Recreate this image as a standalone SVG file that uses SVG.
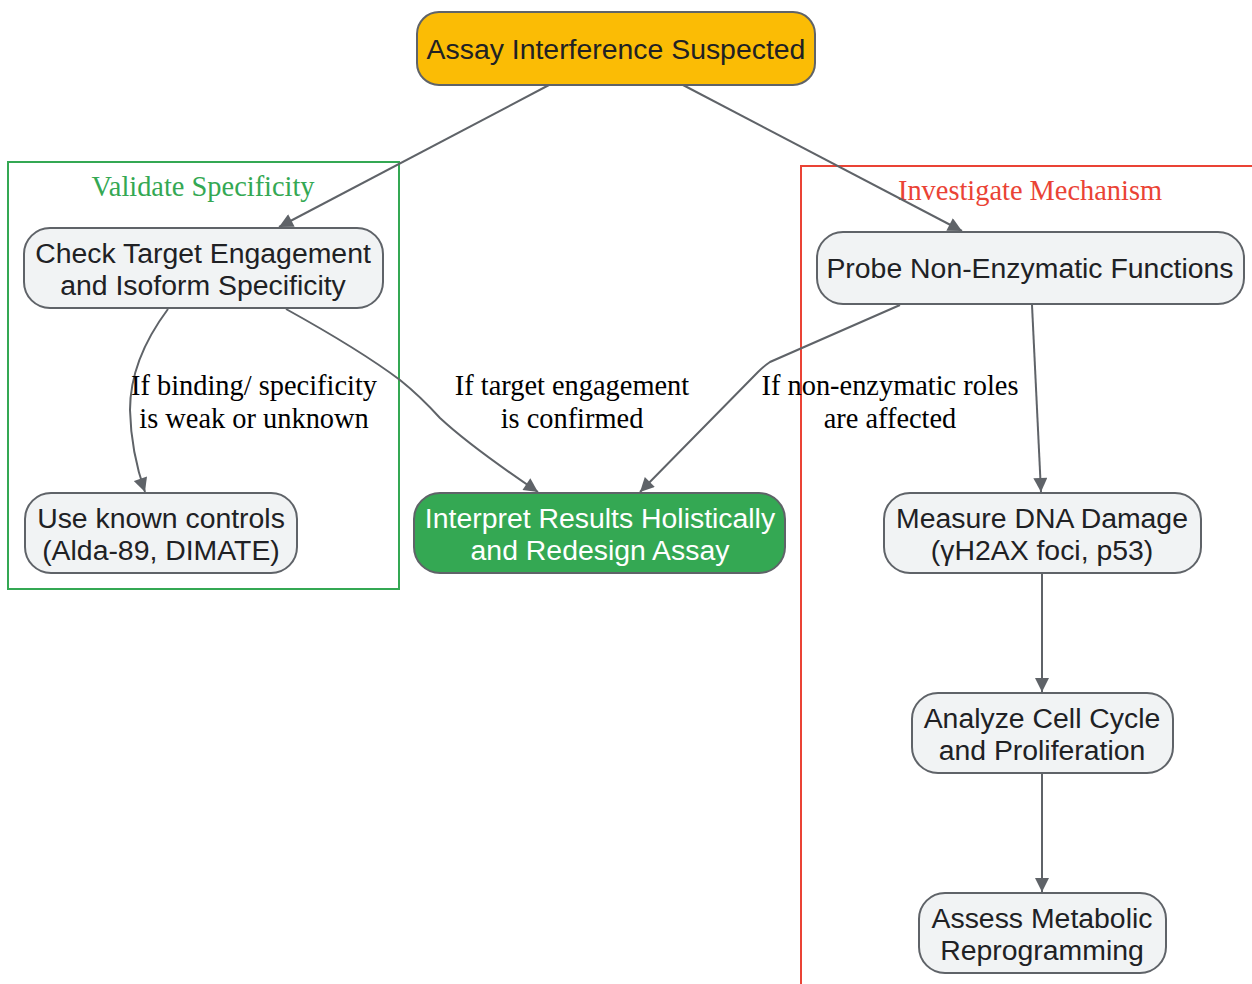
<svg xmlns="http://www.w3.org/2000/svg" width="1252" height="984" viewBox="0 0 1252 984">
<style>
.node rect{fill:#F1F3F4;stroke:#5F6368;stroke-width:2}
.nt{font-family:"Liberation Sans",Arial,sans-serif;font-size:28.4px;fill:#202124;text-anchor:middle}
.lbl{font-family:"Liberation Serif","Times New Roman",serif;font-size:28.4px;fill:#000;text-anchor:middle}
.edge{fill:none;stroke:#5F6368;stroke-width:2;marker-end:url(#arr)}
.ct{font-family:"Liberation Serif","Times New Roman",serif;font-size:28.4px;text-anchor:middle}
</style>
<defs>
<marker id="arr" viewBox="0 0 10 10" refX="10" refY="5" markerWidth="16" markerHeight="14" markerUnits="userSpaceOnUse" orient="auto">
<path d="M0,0 L10,5 L0,10 z" fill="#5F6368"/>
</marker>
</defs>
<rect width="1252" height="984" fill="#fff"/>
<g id="cluster-validate">
<rect x="8" y="162" width="391" height="427" fill="none" stroke="#34A853" stroke-width="2"/>
<text class="ct" x="203" y="196" fill="#34A853">Validate Specificity</text>
</g>
<g id="cluster-investigate">
<rect x="801" y="166" width="470" height="840" fill="none" stroke="#EA4335" stroke-width="2"/>
<text class="ct" x="1030" y="200" fill="#EA4335">Investigate Mechanism</text>
</g>
<g id="connectors">
<path class="edge" d="M549,85 L279,227"/>
<path class="edge" d="M683,85 L962,231"/>
<path class="edge" d="M168,309 Q130,360 130,410 Q131,452 145,492"/>
<path class="edge" d="M286,309 Q360,350 400,380 Q420,396 440,418 Q470,446 538,492"/>
<path class="edge" d="M900,305 L770,362 Q764,366 758,372 L640,492"/>
<path class="edge" d="M1032,305 L1041,492"/>
<path class="edge" d="M1042,573 L1042,692"/>
<path class="edge" d="M1042,773 L1042,892"/>
<g id="edge-labels">
<text class="lbl" x="254" y="395">If binding/ specificity</text>
<text class="lbl" x="254" y="428">is weak or unknown</text>
<text class="lbl" x="572" y="395">If target engagement</text>
<text class="lbl" x="572" y="428">is confirmed</text>
<text class="lbl" x="890" y="395">If non-enzymatic roles</text>
<text class="lbl" x="890" y="428">are affected</text>
</g>
</g>
<g id="n-assay" class="node">
<rect x="417" y="12" width="398" height="73" rx="22" style="fill:#FBBC05"/>
<text class="nt" x="616" y="59">Assay Interference Suspected</text>
</g>
<g id="n-check" class="node">
<rect x="24" y="228" width="359" height="80" rx="26"/>
<text class="nt" x="203" y="263">Check Target Engagement</text>
<text class="nt" x="203" y="295">and Isoform Specificity</text>
</g>
<g id="n-controls" class="node">
<rect x="25" y="493" width="272" height="80" rx="26"/>
<text class="nt" x="161" y="528">Use known controls</text>
<text class="nt" x="161" y="560">(Alda-89, DIMATE)</text>
</g>
<g id="n-interpret" class="node">
<rect x="414" y="493" width="371" height="80" rx="26" style="fill:#34A853"/>
<text class="nt" x="600" y="528" style="fill:#fff">Interpret Results Holistically</text>
<text class="nt" x="600" y="560" style="fill:#fff">and Redesign Assay</text>
</g>
<g id="n-probe" class="node">
<rect x="817" y="232" width="427" height="72" rx="26"/>
<text class="nt" x="1030" y="278">Probe Non-Enzymatic Functions</text>
</g>
<g id="n-dna" class="node">
<rect x="884" y="493" width="317" height="80" rx="26"/>
<text class="nt" x="1042" y="528">Measure DNA Damage</text>
<text class="nt" x="1042" y="560">(γH2AX foci, p53)</text>
</g>
<g id="n-cycle" class="node">
<rect x="912" y="693" width="261" height="80" rx="26"/>
<text class="nt" x="1042" y="728">Analyze Cell Cycle</text>
<text class="nt" x="1042" y="760">and Proliferation</text>
</g>
<g id="n-metab" class="node">
<rect x="919" y="893" width="247" height="80" rx="26"/>
<text class="nt" x="1042" y="928">Assess Metabolic</text>
<text class="nt" x="1042" y="960">Reprogramming</text>
</g>
</svg>
